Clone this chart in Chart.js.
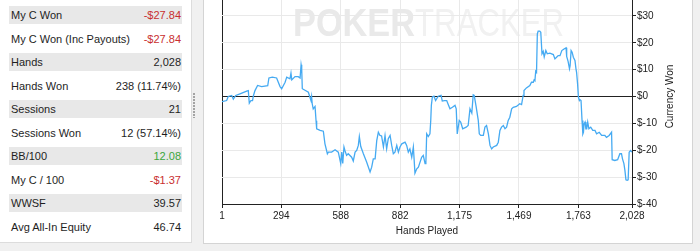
<!DOCTYPE html>
<html>
<head>
<meta charset="utf-8">
<title>Results</title>
<script src="https://cdn.jsdelivr.net/npm/chart.js@4.4.1/dist/chart.umd.min.js"></script>
<style>
    html, body { margin: 0; padding: 0; }
    body {
        width: 700px; height: 251px; overflow: hidden; position: relative;
        background: #f0f0f0; color: #1e1e1e;
        font-family: "Liberation Sans", Arial, sans-serif;
    }
    #stats {
        position: absolute; left: 0; top: -2px; width: 191px; height: 244px;
        background: #fff; border-right: 1px solid #dcdcdc; border-bottom: 1px solid #dcdcdc;
    }
    .row { position: absolute; left: 9px; width: 173px; height: 18px; line-height: 18px; font-size: 11px; }
    .row.alt { background: #e8e8e8; }
    .row .k { position: absolute; left: 2px; }
    .row .v { position: absolute; right: 1px; }
    .neg { color: #c92f2f; }
    .pos { color: #3ba63b; }
    #grip {
        position: absolute; left: 193px; top: 93px; width: 2px; height: 25px;
        background: repeating-linear-gradient(to bottom, #a3a3a3 0, #a3a3a3 2px, transparent 2px, transparent 3px);
    }
    #panel {
        position: absolute; left: 203px; top: -2px; width: 488px; height: 244px;
        background: #fff; border: 1px solid #d4d4d4;
    }
    #chart { position: absolute; left: 204px; top: -20px; }
</style>
</head>
<body>
<div id="stats"></div>
<div id="grip"></div>
<div id="panel"></div>
<canvas id="chart" width="487" height="262"></canvas>
<script>
    var statLabels = ['My C Won', 'My C Won (Inc Payouts)', 'Hands', 'Hands Won', 'Sessions',
        'Sessions Won', 'BB/100', 'My C / 100', 'WWSF', 'Avg All-In Equity'];
    var statValues = ['-$27.84', '-$27.84', '2,028', '238 (11.74%)', '21',
        '12 (57.14%)', '12.08', '-$1.37', '39.57', '46.74'];
    var statTone = ['neg', 'neg', '', '', '', '', 'pos', 'neg', '', ''];

    // cumulative winnings, hand number -> dollars
    var hands = [
        1, 24, 32, 49, 57, 69, 90, 123, 131, 136,
        144, 152, 156, 164, 177, 197, 227, 233, 250, 271,
        288, 296, 313, 321, 337, 342, 346, 362, 378, 387,
        392, 395, 398, 428, 441, 444, 447, 452, 461, 466,
        469, 486, 502, 510, 522, 527, 543, 560, 576, 588,
        593, 598, 604, 609, 617, 625, 642, 650, 659, 667,
        675, 680, 687, 700, 716, 733, 741, 749, 758, 766,
        774, 782, 790, 799, 807, 815, 823, 832, 840, 848,
        856, 865, 873, 881, 890, 906, 914, 922, 930, 939,
        947, 955, 964, 972, 988, 996, 1005, 1009, 1013, 1021,
        1029, 1033, 1036, 1041, 1049, 1057, 1070, 1084, 1090, 1100,
        1112, 1118, 1128, 1140, 1153, 1159, 1164, 1174, 1181, 1191,
        1208, 1218, 1227, 1236, 1243, 1248, 1257, 1268, 1273, 1280,
        1293, 1301, 1309, 1318, 1326, 1334, 1342, 1359, 1367, 1375,
        1383, 1392, 1400, 1408, 1416, 1424, 1433, 1441, 1457, 1473,
        1482, 1490, 1494, 1506, 1523, 1531, 1540, 1544, 1548, 1552,
        1556, 1560, 1564, 1572, 1577, 1583, 1589, 1594, 1602, 1609,
        1622, 1639, 1647, 1655, 1663, 1672, 1681, 1692, 1702, 1705,
        1712, 1719, 1722, 1727, 1732, 1738, 1746, 1751, 1754, 1759,
        1763, 1768, 1771, 1776, 1781, 1785, 1788, 1791, 1796, 1800,
        1804, 1809, 1815, 1824, 1834, 1845, 1853, 1866, 1878, 1894,
        1902, 1915, 1927, 1930, 1943, 1957, 1968, 1976, 1981, 1988,
        1993, 1998, 2004, 2009, 2014, 2021, 2028
    ];
    var won = [
        -1.9, -1.5, 0, 0.4, -1.0, 0.4, 1.0, 2.0, 2.2, -2.5,
        -1.5, -1.5, 0.2, 2.2, 4.1, 3.7, 4.0, 6.9, 7.2, 6.9,
        3.7, 2.9, 5.3, 7.2, 6.6, 8.7, 6.2, 7.4, 7.4, 6.9,
        11.8, 10.3, 2.9, 1.6, -1.5, 0, -2.7, -4.6, -3.7, -9.0,
        -12.0, -12.6, -12.9, -17.6, -21.3, -20.7, -20.7, -19.8, -20.7, -25.0,
        -20.7, -24.9, -18.8, -20.2, -21.9, -21.3, -22.6, -24.0, -20.7, -20.1,
        -18.2, -14.9, -18.6, -21.3, -24.4, -28.1, -26.3, -23.2, -23.2, -16.4,
        -13.3, -14.5, -14.7, -18.8, -14.5, -19.5, -15.7, -14.5, -18.2, -21.3,
        -20.7, -18.2, -20.7, -18.8, -17.6, -17.0, -18.2, -20.7, -19.5, -22.6,
        -18.8, -28.5, -26.9, -26.3, -22.6, -21.9, -25.0, -24.5, -13.9, -14.9,
        -13.9, -8.9, -3.3, -0.2, 0.1, -1.5, 0.1, 0.4, -1.7, -1.5,
        -1.5, -2.7, -4.6, -4.0, -3.3, -4.6, -13.9, -8.9, -9.5, -12.0,
        -11.4, -10.8, -4.6, -6.2, 0.6, 0.4, -3.6, -8.9, -13.9, -14.5,
        -14.5, -11.4, -10.8, -13.9, -18.2, -19.5, -18.8, -18.2, -17.0, -12.6,
        -11.4, -10.8, -12.0, -11.4, -8.9, -7.7, -4.6, -4.0, -3.7, -2.7,
        -3.0, 0.4, 2.2, 3.2, 4.1, 5.3, 5.3, 6.2, 5.9, 9.4,
        9.0, 23.3, 24.3, 24.3, 23.9, 15.9, 16.8, 14.7, 17.1, 15.9,
        16.1, 15.6, 14.0, 14.6, 15.2, 15.2, 17.1, 17.7, 18.1, 14.9,
        13.1, 10.3, 11.5, 17.1, 16.5, 14.6, 13.4, 10.3, 9.0, 4.7,
        -0.2, -1.5, -1.2, -1.5, -8.9, -13.9, -13.3, -10.2, -9.5, -12.0,
        -12.0, -9.5, -12.0, -11.4, -12.6, -12.6, -13.9, -13.3, -14.5, -14.5,
        -15.2, -14.5, -13.3, -23.5, -23.8, -23.5, -21.3, -21.3, -23.2, -25.0,
        -27.5, -31.0, -31.2, -31.0, -20.7, -20.1, -20.7
    ];
    var handTicks = [1, 294, 588, 882, 1175, 1469, 1763, 2028];
    var wonTicks = [-40, -30, -20, -10, 0, 10, 20, 30, 40];

    var FONT = '"Liberation Sans", Arial, sans-serif';

    // stats list on the left
    var stats = document.getElementById('stats');
    statLabels.forEach(function (label, i) {
        var row = document.createElement('div');
        row.className = 'row' + (i % 2 === 0 ? ' alt' : '');
        row.style.top = Math.round(8 + 23.5 * i) + 'px';
        var k = document.createElement('span');
        k.className = 'k';
        k.textContent = label;
        var v = document.createElement('span');
        v.className = 'v ' + statTone[i];
        v.textContent = statValues[i];
        row.appendChild(k);
        row.appendChild(v);
        stats.appendChild(row);
    });

    var watermark = {
        id: 'watermark',
        beforeDraw: function (chart) {
            var ctx = chart.ctx;
            ctx.save();
            ctx.textBaseline = 'alphabetic';
            ctx.translate(89, 56);
            ctx.font = 'bold 39px ' + FONT;
            ctx.fillStyle = '#e9e9e9';
            var w = ctx.measureText('POKER').width * 0.88;
            ctx.save();
            ctx.scale(0.88, 1);
            ctx.fillText('POKER', 0, 0);
            ctx.restore();
            ctx.font = '39px ' + FONT;
            ctx.fillStyle = '#f1f1f1';
            ctx.translate(w, 0);
            ctx.scale(0.8, 1);
            ctx.fillText('TRACKER', 0, 0);
            ctx.restore();
        }
    };

    // PokerTracker puts the right-hand axis title bottom-to-top
    var sideTitle = {
        id: 'sideTitle',
        afterDraw: function (chart) {
            var ctx = chart.ctx;
            var area = chart.chartArea;
            ctx.save();
            ctx.translate(466, (area.top + area.bottom) / 2);
            ctx.rotate(-Math.PI / 2);
            ctx.font = '10px ' + FONT;
            ctx.fillStyle = '#222';
            ctx.textAlign = 'center';
            ctx.textBaseline = 'middle';
            ctx.fillText('Currency Won', 0, 0);
            ctx.restore();
        }
    };

    new Chart(document.getElementById('chart').getContext('2d'), {
        type: 'line',
        data: {
            datasets: [{
                data: hands.map(function (h, i) { return { x: h, y: won[i] }; }),
                borderColor: '#45aaf2',
                borderWidth: 1.3,
                pointRadius: 0,
                tension: 0,
                fill: false
            }]
        },
        options: {
            responsive: false,
            animation: false,
            layout: { padding: { left: 18, top: 9, right: 0, bottom: 0 } },
            plugins: {
                legend: { display: false },
                tooltip: { enabled: false }
            },
            scales: {
                x: {
                    type: 'linear',
                    min: 1,
                    max: 2028,
                    afterBuildTicks: function (axis) {
                        axis.ticks = handTicks.map(function (v) { return { value: v }; });
                    },
                    afterFit: function (axis) { axis.height = 38; },
                    grid: {
                        color: function (c) { return c.tick && c.tick.value === 1 ? '#222' : '#e9e9e9'; },
                        tickColor: '#222',
                        tickLength: 4
                    },
                    border: { color: '#222' },
                    ticks: {
                        color: '#222',
                        font: { size: 10, family: FONT },
                        padding: 2,
                        maxRotation: 0,
                        autoSkip: false,
                        callback: function (v) { return v.toLocaleString('en-US'); }
                    },
                    title: {
                        display: true,
                        text: 'Hands Played',
                        color: '#222',
                        font: { size: 10, family: FONT },
                        padding: { top: 0, bottom: 5 }
                    }
                },
                y: {
                    position: 'right',
                    min: -40,
                    max: 40,
                    afterBuildTicks: function (axis) {
                        axis.ticks = wonTicks.map(function (v) { return { value: v }; });
                    },
                    afterFit: function (axis) { axis.width = 59; },
                    grid: {
                        color: function (c) { return c.tick && c.tick.value === 0 ? '#222' : '#e9e9e9'; },
                        tickColor: '#222',
                        tickLength: 4
                    },
                    border: { color: '#222' },
                    ticks: {
                        color: '#222',
                        font: { size: 10, family: FONT },
                        padding: 1,
                        callback: function (v) { return '$' + v; }
                    }
                }
            }
        },
        plugins: [watermark, sideTitle]
    });
</script>
</body>
</html>
